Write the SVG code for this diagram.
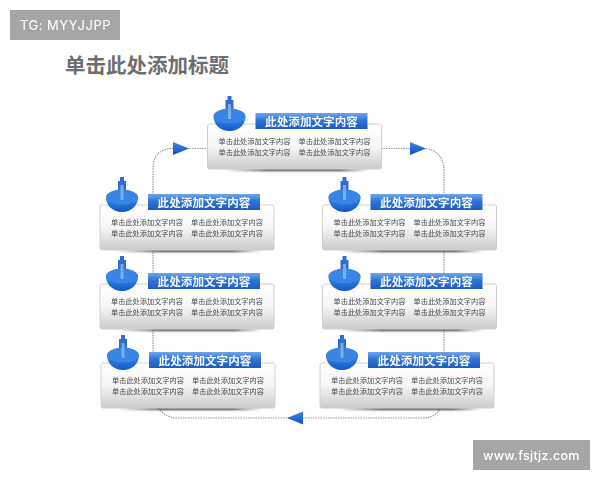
<svg xmlns="http://www.w3.org/2000/svg" xmlns:xlink="http://www.w3.org/1999/xlink" width="600" height="480" viewBox="0 0 600 480">
<style>
.box{fill:url(#boxG);stroke:#d0d0d0;stroke-width:1}
.hdr{fill:url(#hdrG)}
.ht{font:bold 11.6px "Noto Sans CJK SC",sans-serif;fill:#f4f8ff;text-anchor:middle;filter:url(#soft)}
.bt{font:7.2px "Noto Sans CJK SC",sans-serif;fill:#4a4a4a;filter:url(#soft)}
.ln{fill:none;stroke:#8f9aa6;stroke-width:1.2;stroke-dasharray:1.5 1}
.ar{fill:url(#arG)}
.wm{fill:#a6a6a6}
.wt{fill:#fff;font-family:Inter,"Liberation Sans",sans-serif;filter:url(#soft)}
</style>
<defs>
<filter id="soft" x="-5%" y="-20%" width="110%" height="140%"><feGaussianBlur stdDeviation="0.3"/></filter>
<filter id="bl" x="-10%" y="-200%" width="120%" height="500%"><feGaussianBlur stdDeviation="1"/></filter>
<linearGradient id="boxG" x1="0" y1="0" x2="0" y2="1"><stop offset="0" stop-color="#fff"/><stop offset=".5" stop-color="#f6f6f6"/><stop offset="1" stop-color="#cbcbcb"/></linearGradient>
<linearGradient id="hdrG" x1="0" y1="0" x2="0" y2="1"><stop offset="0" stop-color="#6fa6ea"/><stop offset=".45" stop-color="#2f74d4"/><stop offset="1" stop-color="#1c5dc0"/></linearGradient>
<linearGradient id="bowlG" x1="0" y1="0" x2="0" y2="1"><stop offset="0" stop-color="#3f88e6"/><stop offset="1" stop-color="#0f58c8"/></linearGradient>
<linearGradient id="arG" x1="0" y1="0" x2="0" y2="1"><stop offset="0" stop-color="#3f86e0"/><stop offset="1" stop-color="#0f4fc0"/></linearGradient>
<linearGradient id="shG" x1="0" y1="0" x2="1" y2="0"><stop offset="0" stop-color="#555" stop-opacity="0"/><stop offset=".3" stop-color="#333"/><stop offset=".8" stop-color="#333"/><stop offset="1" stop-color="#555" stop-opacity="0"/></linearGradient>
<g id="card">
<rect x="16" y="44.500" width="146" height="2.500" fill="url(#shG)" filter="url(#bl)"/>
<rect class="box" x="0" y="0" width="174" height="45" rx="2"/>
</g>
<g id="bowl">
<path d="M20 -28h4v4h2v9h-8v-9h2z" fill="#2f6fc8"/>
<path d="M6 -8C6 0 12 7 22 7S38 0 38 -8z" fill="url(#bowlG)"/>
<ellipse cx="22" cy="-8" rx="16" ry="7.500" fill="#3a84e6"/>
<rect x="20.500" y="-20" width="3" height="15" fill="#8db8ee" opacity=".8"/>
</g>
<g id="hdrbar"><rect class="hdr" x="48" y="-11" width="112" height="16"/></g>
</defs>
<rect width="600" height="480" fill="#fff"/>
<g id="watermark-top"><rect class="wm" x="10" y="10" width="110" height="30"/><text class="wt" x="20" y="29.500" font-size="13" letter-spacing=".5">TG: MYYJJPP</text></g>
<g id="watermark-bottom"><rect class="wm" x="473" y="440" width="117" height="30"/><text class="wt" x="483" y="459.500" font-size="12.500" font-weight="500" letter-spacing=".3">www.fsjtjz.com</text></g>
<text id="title" x="65" y="73" style="font:bold 20.500px 'Noto Sans CJK SC',sans-serif;fill:#6e6e6e">单击此处添加标题</text>
<g id="connectors">
<path class="ln" d="M153 205V170Q153 148.500 173 148.500H207"/>
<path class="ln" d="M381 148.500H422Q444 148.500 444 172V363"/>
<path class="ln" d="M153 250V352"/>
<path class="ln" d="M159 408Q165 418 178 418H422Q436 418 440 408"/>
<polygon class="ar" points="173,142 173,155 189,148.500"/>
<polygon class="ar" points="410,142 410,155 426,148.500"/>
<polygon class="ar" points="303,411.500 303,424.500 287,418"/>
</g>
<g id="node-top" transform="translate(207.500 124)"><use xlink:href="#card"/><use xlink:href="#bowl"/><use xlink:href="#hdrbar"/><text class="ht" x="104" y="1.500">此处添加文字内容</text><text class="bt" x="11" y="20">单击此处添加文字内容</text><text class="bt" x="91" y="20">单击此处添加文字内容</text><text class="bt" x="11" y="30.500">单击此处添加文字内容</text><text class="bt" x="91" y="30.500">单击此处添加文字内容</text></g>
<g id="node-left-1" transform="translate(100 205)"><use xlink:href="#card"/><use xlink:href="#bowl"/><use xlink:href="#hdrbar"/><text class="ht" x="104" y="1.500">此处添加文字内容</text><text class="bt" x="11" y="20">单击此处添加文字内容</text><text class="bt" x="91" y="20">单击此处添加文字内容</text><text class="bt" x="11" y="30.500">单击此处添加文字内容</text><text class="bt" x="91" y="30.500">单击此处添加文字内容</text></g>
<g id="node-right-1" transform="translate(322.500 205)"><use xlink:href="#card"/><use xlink:href="#bowl"/><use xlink:href="#hdrbar"/><text class="ht" x="104" y="1.500">此处添加文字内容</text><text class="bt" x="11" y="20">单击此处添加文字内容</text><text class="bt" x="91" y="20">单击此处添加文字内容</text><text class="bt" x="11" y="30.500">单击此处添加文字内容</text><text class="bt" x="91" y="30.500">单击此处添加文字内容</text></g>
<g id="node-left-2" transform="translate(100 284)"><use xlink:href="#card"/><use xlink:href="#bowl"/><use xlink:href="#hdrbar"/><text class="ht" x="104" y="1.500">此处添加文字内容</text><text class="bt" x="11" y="20">单击此处添加文字内容</text><text class="bt" x="91" y="20">单击此处添加文字内容</text><text class="bt" x="11" y="30.500">单击此处添加文字内容</text><text class="bt" x="91" y="30.500">单击此处添加文字内容</text></g>
<g id="node-right-2" transform="translate(322.500 284)"><use xlink:href="#card"/><use xlink:href="#bowl"/><use xlink:href="#hdrbar"/><text class="ht" x="104" y="1.500">此处添加文字内容</text><text class="bt" x="11" y="20">单击此处添加文字内容</text><text class="bt" x="91" y="20">单击此处添加文字内容</text><text class="bt" x="11" y="30.500">单击此处添加文字内容</text><text class="bt" x="91" y="30.500">单击此处添加文字内容</text></g>
<g id="node-left-3" transform="translate(101 363)"><use xlink:href="#card"/><use xlink:href="#bowl"/><use xlink:href="#hdrbar"/><text class="ht" x="104" y="1.500">此处添加文字内容</text><text class="bt" x="11" y="20">单击此处添加文字内容</text><text class="bt" x="91" y="20">单击此处添加文字内容</text><text class="bt" x="11" y="30.500">单击此处添加文字内容</text><text class="bt" x="91" y="30.500">单击此处添加文字内容</text></g>
<g id="node-right-3" transform="translate(320 363)"><use xlink:href="#card"/><use xlink:href="#bowl"/><use xlink:href="#hdrbar"/><text class="ht" x="104" y="1.500">此处添加文字内容</text><text class="bt" x="11" y="20">单击此处添加文字内容</text><text class="bt" x="91" y="20">单击此处添加文字内容</text><text class="bt" x="11" y="30.500">单击此处添加文字内容</text><text class="bt" x="91" y="30.500">单击此处添加文字内容</text></g>
</svg>
